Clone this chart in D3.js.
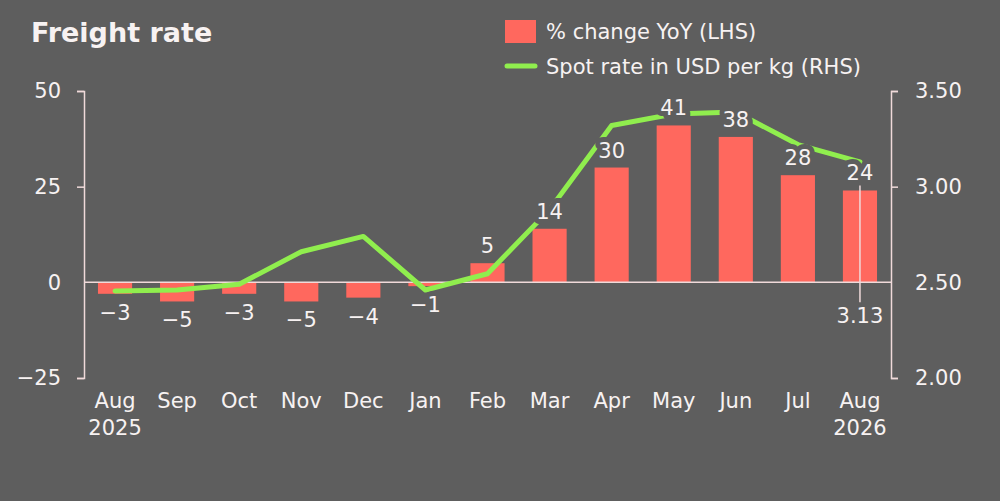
<!DOCTYPE html>
<html>
<head>
<meta charset="utf-8">
<script src="https://d3js.org/d3.v7.min.js"></script>
<style>
  html, body { margin: 0; padding: 0; background: #5e5e5e; }
  svg { display: block; font-family: "DejaVu Sans", sans-serif; }
</style>
</head>
<body>
<svg id="chart" width="1000" height="501"></svg>
<script>
// chart data
const months = ['Aug', 'Sep', 'Oct', 'Nov', 'Dec', 'Jan', 'Feb', 'Mar', 'Apr', 'May', 'Jun', 'Jul', 'Aug '];
const years = ['2025', '', '', '', '', '', '', '', '', '', '', '', '2026'];
const yoyChange = [-3, -5, -3, -5, -4, -1, 5, 14, 30, 41, 38, 28, 24];
const spotRate = [2.455, 2.46, 2.49, 2.66, 2.74, 2.46, 2.545, 2.88, 3.32, 3.38, 3.39, 3.22, 3.13];
const leftTicks = [-25, 0, 25, 50];
const rightTicks = [2.0, 2.5, 3.0, 3.5];

const bg = '#5e5e5e';
const barColor = '#ff685e';
const lineColor = '#90ee4e';
const axisColor = '#f0dada';
const textColor = '#f7f2f2';
const fs = 21;

const svg = d3.select('#chart');
const margin = { left: 84, right: 109, top: 91, bottom: 123 };
const width = 1000 - margin.left - margin.right;
const plotH = 501 - margin.top - margin.bottom;

const g = svg.append('g').attr('transform', `translate(${margin.left},${margin.top})`);

const x = d3.scaleBand().domain(months).range([0, width]).paddingInner(0.45).paddingOuter(0.225);
const yL = d3.scaleLinear().domain([-25, 50]).range([plotH, 0]);
const yR = d3.scaleLinear().domain([2.0, 3.5]).range([plotH, 0]);

// title
svg.append('text')
  .attr('x', 31).attr('y', 42)
  .attr('fill', textColor)
  .attr('font-size', 27).attr('font-weight', 700)
  .text('Freight rate');

// legend
const legend = svg.append('g').attr('transform', 'translate(505,0)');
legend.append('rect').attr('x', 0).attr('y', 20).attr('width', 31).attr('height', 23).attr('fill', barColor);
legend.append('line').attr('x1', 2).attr('x2', 30).attr('y1', 66).attr('y2', 66)
  .attr('stroke', lineColor).attr('stroke-width', 5).attr('stroke-linecap', 'round');
legend.append('text').attr('x', 41).attr('y', 38.5).attr('fill', textColor).attr('font-size', fs)
  .text('% change YoY (LHS)');
legend.append('text').attr('x', 41).attr('y', 74).attr('fill', textColor).attr('font-size', fs)
  .text('Spot rate in USD per kg (RHS)');

// bars
g.selectAll('rect.bar').data(yoyChange).join('rect')
  .attr('class', 'bar')
  .attr('x', (d, i) => x(months[i]))
  .attr('width', x.bandwidth())
  .attr('y', d => d >= 0 ? yL(d) : yL(0))
  .attr('height', d => Math.abs(yL(d) - yL(0)))
  .attr('fill', barColor);

// zero line
g.append('line')
  .attr('x1', 0).attr('x2', width)
  .attr('y1', yL(0)).attr('y2', yL(0))
  .attr('stroke', axisColor).attr('stroke-width', 1.5);

// axes
const leftAxis = g.append('g')
  .call(d3.axisLeft(yL).tickValues(leftTicks).tickSize(7).tickPadding(16)
    .tickFormat(d => d < 0 ? '\u2212' + Math.abs(d) : d));
const rightAxis = g.append('g').attr('transform', `translate(${width},0)`)
  .call(d3.axisRight(yR).tickValues(rightTicks).tickSize(7).tickPadding(17).tickFormat(d3.format('.2f')));
[leftAxis, rightAxis].forEach(ax => {
  ax.select('.domain').attr('stroke', axisColor).attr('stroke-width', 1.5);
  ax.selectAll('.tick line').attr('stroke', axisColor).attr('stroke-width', 1.5);
  ax.selectAll('.tick text').attr('fill', textColor).attr('font-size', fs)
    .attr('font-family', '"DejaVu Sans", sans-serif');
});
// hide tick at zero where zero line already sits
leftAxis.selectAll('.tick').filter(d => d === 0).select('line').remove();
rightAxis.selectAll('.tick').filter(d => d === 2.5).select('line').remove();

// x labels
const xl = g.append('g').attr('transform', `translate(0,${plotH})`);
months.forEach((m, i) => {
  const cx = x(m) + x.bandwidth() / 2;
  const t = xl.append('text').attr('x', cx).attr('y', 30)
    .attr('text-anchor', 'middle').attr('fill', textColor).attr('font-size', fs);
  t.append('tspan').attr('x', cx).attr('dy', 0).text(m.trim());
  if (years[i]) t.append('tspan').attr('x', cx).attr('dy', 27).text(years[i]);
});

// spot rate line
const line = d3.line()
  .x((d, i) => x(months[i]) + x.bandwidth() / 2)
  .y(d => yR(d));
g.append('path').datum(spotRate)
  .attr('d', line)
  .attr('fill', 'none')
  .attr('stroke', lineColor)
  .attr('stroke-width', 5)
  .attr('stroke-linejoin', 'round')
  .attr('stroke-linecap', 'round');

// annotation for the latest spot rate
const last = spotRate.length - 1;
const lx = x(months[last]) + x.bandwidth() / 2;
g.append('line')
  .attr('x1', lx).attr('x2', lx)
  .attr('y1', yL(yoyChange[last]) - 5).attr('y2', yL(0) + 20)
  .attr('stroke', axisColor).attr('stroke-width', 1.5);
g.append('text')
  .attr('x', lx).attr('y', yL(0) + 41)
  .attr('text-anchor', 'middle').attr('fill', textColor).attr('font-size', fs)
  .text(d3.format('.2f')(spotRate[last]));

// bar value labels, with a halo to cut the line
g.selectAll('text.val').data(yoyChange).join('text')
  .attr('class', 'val')
  .attr('x', (d, i) => x(months[i]) + x.bandwidth() / 2)
  .attr('y', d => d >= 0 ? yL(d) - 10 : yL(d) + 26)
  .attr('text-anchor', 'middle')
  .attr('fill', textColor)
  .attr('font-size', fs)
  .attr('stroke', bg).attr('stroke-width', 10).attr('stroke-linejoin', 'round')
  .attr('paint-order', 'stroke')
  .text(d => d < 0 ? '\u2212' + Math.abs(d) : d);
</script>
</body>
</html>
